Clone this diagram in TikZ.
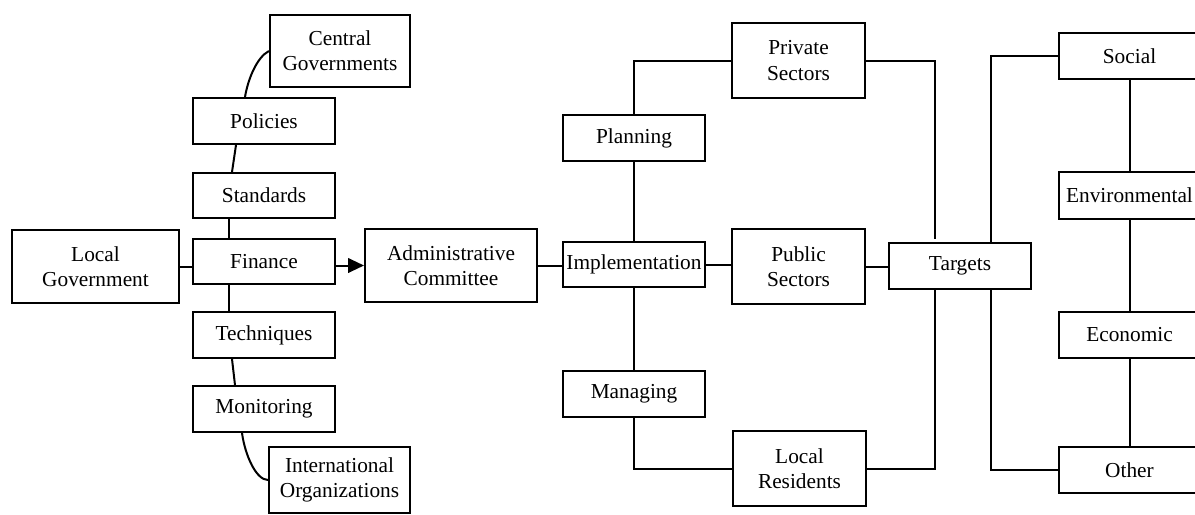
\documentclass[tikz,border=0pt]{standalone}
\usepackage{fontspec}
\setmainfont{Liberation Serif}
\usetikzlibrary{calc,arrows.meta}
\newcommand\bx[6]{\node[box, minimum width={(#4-#2)*0.75pt}, minimum height={(#5-#3)*0.75pt}] (#1) at ({(#2+#4)/2},{(#3+#5)/2}) {#6};}
\begin{document}
\begin{tikzpicture}[x=0.75pt,y=-0.75pt,
  box/.style={draw, fill=white, line width=1.5pt, inner sep=0pt, align=center,
    font=\fontsize{16}{19}\selectfont},
  conn/.style={line width=1.5pt},
  arr/.style={line width=1.5pt, -{Triangle[length=12pt,width=11pt]}}]
\useasboundingbox (0,0) rectangle (1195,514);
\clip (0,0) rectangle (1195,514);
% left column
\bx{central}{270}{15}{410}{87}{Central\\Governments}
\bx{policies}{193}{98}{335}{144}{Policies}
\bx{standards}{193}{173}{335}{218}{Standards}
\bx{localgov}{12}{230}{179}{303}{Local\\Government}
\bx{finance}{193}{239}{335}{284}{Finance}
\bx{techniques}{193}{312}{335}{358}{Techniques}
\bx{monitoring}{193}{386}{335}{432}{Monitoring}
\bx{intl}{269}{447}{410}{513}{International\\Organizations}
% middle
\bx{admin}{365}{229}{537}{302}{Administrative\\Committee}
\bx{planning}{563}{115}{705}{161}{Planning}
\bx{impl}{563}{242}{705}{287}{Implementation}
\bx{managing}{563}{371}{705}{417}{Managing}
\bx{private}{732}{23}{865}{98}{Private\\Sectors}
\bx{public}{732}{229}{865}{304}{Public\\Sectors}
\bx{residents}{733}{431}{866}{506}{Local\\Residents}
\bx{targets}{889}{243}{1031}{289}{Targets}
% right column
\bx{social}{1059}{33}{1200}{79}{Social}
\bx{environ}{1059}{172}{1200}{219}{Environmental}
\bx{economic}{1059}{312}{1200}{358}{Economic}
\bx{other}{1059}{447}{1200}{493}{Other}
% left chain
\draw[conn] (central.west) .. controls ($(central.west)+(-12,6)$) and ($(policies.north)+(-16,-18)$) .. ($(policies.north)+(-19,0)$);
\draw[conn] ($(policies.south)+(-28,0)$) -- ($(standards.north)+(-32,0)$);
\draw[conn] ($(standards.south)+(-35,0)$) -- ($(finance.north)+(-35,0)$);
\draw[conn] ($(finance.south)+(-35,0)$) -- ($(techniques.north)+(-35,0)$);
\draw[conn] ($(techniques.south)+(-32,0)$) -- ($(monitoring.north)+(-29,0)$);
\draw[conn] ($(monitoring.south)+(-22,0)$) .. controls ($(monitoring.south)+(-19,22)$) and ($(intl.west)+(-12,0)$) .. (intl.west);
\draw[conn] (localgov.east) -- (localgov.east -| finance.west);
\draw[arr] (admin.west -| finance.east) -- (admin.west);
% middle
\draw[conn] (admin.east) -- (admin.east -| impl.west);
\draw[conn] (impl.east) -- (impl.east -| public.west);
\draw[conn] (planning.north) |- (private.west);
\draw[conn] (planning.south) -- (impl.north);
\draw[conn] (impl.south) -- (managing.north);
\draw[conn] (managing.south) |- (residents.west);
\coordinate (tl) at ($(targets.north)+(-25,-3)$);
\coordinate (bl) at ($(targets.south)+(-25,-2)$);
\coordinate (tr) at ($(targets.north)+(31,0)$);
\coordinate (br) at ($(targets.south)+(31,0)$);
\draw[conn] (private.east) -| (tl);
\draw[conn] (residents.east) -| (bl);
\draw[conn] (public.east) -- (public.east -| targets.west);
\draw[conn] (tr) |- (social.west);
\draw[conn] (br) |- (other.west);
% right column
\draw[conn] (social.south) -- (environ.north);
\draw[conn] (environ.south) -- (economic.north);
\draw[conn] (economic.south) -- (other.north);
\end{tikzpicture}
\end{document}
